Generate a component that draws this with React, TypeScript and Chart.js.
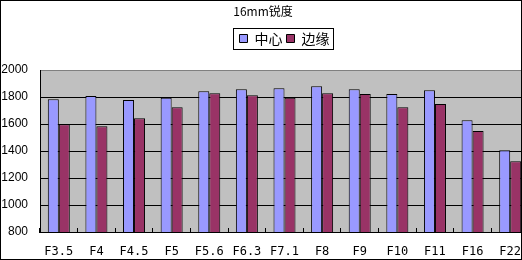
import { useEffect, useRef } from 'react';
import { Chart, registerables } from 'chart.js';

Chart.register(...registerables);

const titleText = '16mm锐度';
const categories = ['F3.5', 'F4', 'F4.5', 'F5', 'F5.6', 'F6.3', 'F7.1', 'F8', 'F9', 'F10', 'F11', 'F16', 'F22'];
const seriesNames = ['中心', '边缘'];
const centerValues = [1783, 1807, 1778, 1795, 1842, 1857, 1864, 1879, 1857, 1822, 1850, 1627, 1405];
const edgeValues = [1598, 1583, 1642, 1724, 1827, 1813, 1795, 1827, 1822, 1724, 1748, 1548, 1324];
const yTicks = [800, 1000, 1200, 1400, 1600, 1800, 2000];

const plotBg = {
  id: 'plotBg',
  beforeDraw(chart: any) {
    const { ctx, chartArea: a } = chart;
    ctx.save();
    ctx.fillStyle = '#C0C0C0';
    ctx.fillRect(a.left, a.top, a.right - a.left, a.bottom - a.top);
    ctx.restore();
  },
};

const legendFrame = {
  id: 'legendFrame',
  afterDraw(chart: any) {
    const boxes = chart.legend?.legendHitBoxes;
    if (!boxes || !boxes.length) return;
    const ctx = chart.ctx;
    const left = Math.min(...boxes.map((b: any) => b.left)) - 7;
    const right = Math.max(...boxes.map((b: any) => b.left + b.width)) + 3;
    const top = Math.min(...boxes.map((b: any) => b.top)) - 3.5;
    const bottom = Math.max(...boxes.map((b: any) => b.top + b.height)) + 3.5;
    ctx.save();
    ctx.strokeStyle = '#000';
    ctx.lineWidth = 1;
    ctx.strokeRect(Math.round(left) + 0.5, Math.round(top) + 0.5, Math.round(right - left), Math.round(bottom - top));
    ctx.restore();
  },
};

export default function App() {
  const ref = useRef<HTMLCanvasElement>(null);
  useEffect(() => {
    if (!ref.current) return;
    Chart.defaults.color = '#000';
    const chart = new Chart(ref.current, {
      type: 'bar',
      data: {
        labels: categories,
        datasets: [
          {
            label: seriesNames[0],
            data: centerValues,
            backgroundColor: '#9999FF',
            borderColor: '#000',
            borderWidth: 1,
            borderSkipped: false,
            barPercentage: 1,
            categoryPercentage: 0.585,
          },
          {
            label: seriesNames[1],
            data: edgeValues,
            backgroundColor: '#993366',
            borderColor: '#000',
            borderWidth: 1,
            borderSkipped: false,
            barPercentage: 1,
            categoryPercentage: 0.585,
          },
        ],
      },
      options: {
        animation: false,
        responsive: false,
        devicePixelRatio: 1,
        events: [],
        layout: { padding: { left: 5, right: 5, top: 0, bottom: 0 } },
        plugins: {
          title: {
            display: true,
            text: titleText,
            color: '#000',
            font: { family: '"Noto Sans CJK SC"', size: 12, weight: 'normal' },
            padding: { top: 4, bottom: 9.1 },
          },
          legend: {
            display: true,
            position: 'top',
            fullSize: false,
            labels: {
              boxWidth: 8,
              boxHeight: 8,
              padding: 4,
              color: '#000',
              font: { family: '"Noto Sans CJK SC"', size: 14 },
            },
          },
          tooltip: { enabled: false },
        },
        scales: {
          x: {
            type: 'category',
            position: 'bottom',
            grid: {
              display: true,
              drawOnChartArea: false,
              drawTicks: true,
              tickLength: -4,
              color: '#000',
              offset: true,
            },
            border: { display: true, color: '#000', width: 1 },
            ticks: {
              font: { family: '"DejaVu Sans Mono"', size: 12, lineHeight: 3 },
              padding: 6,
              maxRotation: 0,
              autoSkip: false,
              color: '#000',
            },
            afterFit: (s: any) => {
              s.height = 28;
            },
          },
          xTop: {
            type: 'category',
            position: 'top',
            display: true,
            grid: { display: false },
            border: { display: false },
            ticks: { display: false },
            afterFit: (s: any) => {
              s.height = 14.5;
            },
          },
          y: {
            type: 'linear',
            min: 800,
            max: 2000,
            afterBuildTicks: (s: any) => {
              s.ticks = yTicks.map((v) => ({ value: v }));
            },
            grid: {
              drawTicks: false,
              color: (c: any) => (c.tick && c.tick.value === 2000 ? '#808080' : '#000'),
            },
            border: { display: true, color: '#000', width: 1 },
            ticks: {
              font: { family: '"Liberation Sans"', size: 12 },
              padding: 12,
              color: '#000',
              callback: (v: any) => String(v),
            },
            afterFit: (s: any) => {
              s.width = 43;
            },
          },
        },
      },
      plugins: [plotBg, legendFrame],
    } as any);
    return () => chart.destroy();
  }, []);

  return (
    <div style={{ position: 'absolute', left: 0, top: 0, width: 522, height: 260, overflow: 'hidden', background: '#fff' }}>
      <canvas ref={ref} width={542} height={260} style={{ position: 'absolute', left: -8, top: 0, width: 542, height: 260 }} />
      <div style={{ position: 'absolute', left: 0, top: 0, width: 522, height: 260, boxSizing: 'border-box', border: '1px solid #000', pointerEvents: 'none' }} />
    </div>
  );
}
